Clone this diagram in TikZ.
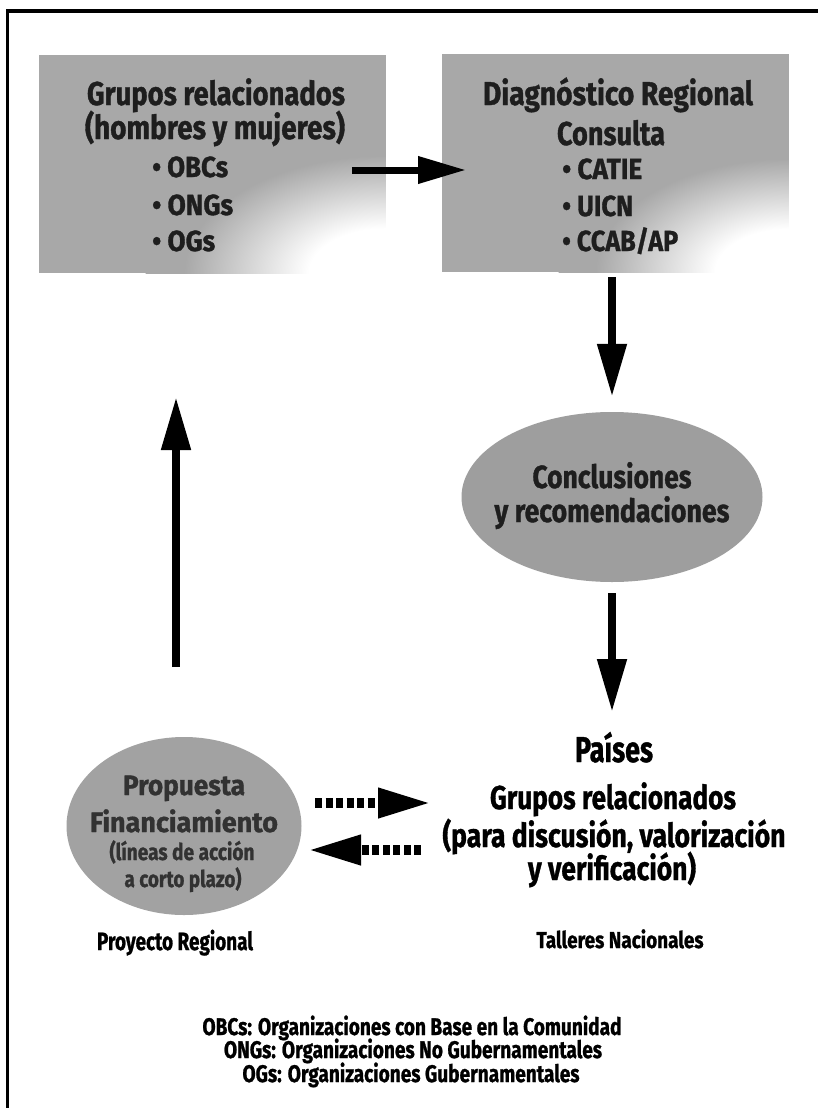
\documentclass[tikz,border=0pt]{standalone}
\usepackage{fontspec}
\setmainfont{Fira Sans}[BoldFeatures={FakeBold=1.2}]
\usepackage{graphicx}
\usetikzlibrary{arrows.meta,shapes.geometric}
\definecolor{boxgray}{RGB}{168,168,168}
\definecolor{ellgray}{RGB}{158,158,158}
\definecolor{propgray}{RGB}{162,162,162}
\definecolor{txtdark}{RGB}{30,30,30}
\definecolor{txtprop}{RGB}{50,50,50}
\pgfdeclareradialshading{cornerfade}{\pgfpoint{0bp}{0bp}}{color(0bp)=(white); color(8bp)=(white); color(21bp)=(boxgray); color(25bp)=(boxgray); color(50bp)=(boxgray)}
\newcommand{\fw}[2]{\resizebox{#1pt}{\height}{#2}}
\newcommand{\fsz}[1]{\fontsize{#1}{#1}\selectfont\bfseries}
\tikzset{
  gbox/.style={rectangle, fill=boxgray, inner sep=0pt, minimum width=347pt, minimum height=218pt},
  gell/.style={ellipse, inner sep=0pt},
  txt/.style={inner sep=0pt, anchor=base, text=black},
  bigarrow/.style={line width=8pt, -{Triangle[length=53pt,width=28pt]}},
  midarrow/.style={line width=7pt, -{Triangle[length=48pt,width=26pt]}},
  dotarrow/.style={line width=10pt, dash pattern=on 7pt off 3.5pt, -{Triangle[length=53pt,width=28pt]}}
}
\begin{document}
\begin{tikzpicture}[x=1pt,y=-1pt]
\useasboundingbox (0,0) rectangle (818,1108);
\fill[white] (0,0) rectangle (818,1108);
% frame
\draw[line width=3.5pt] (822,11) -- (7.5,11) -- (7.5,1112);

% box 1
\node[gbox] (b1) at (212,164) {};
\begin{scope}
  \clip (b1.south west) rectangle (b1.north east);
  \shade[shading=cornerfade] (b1.south east) ellipse [x radius=240pt, y radius=140pt];
\end{scope}
% box 2
\node[gbox] (b2) at (615,163) {};
\begin{scope}
  \clip (b2.south west) rectangle (b2.north east);
  \shade[shading=cornerfade] (b2.south east) ellipse [x radius=230pt, y radius=135pt];
\end{scope}

% box 1 text
\node[txt, text=txtdark, font=\fsz{33}] (b1l1) at (216,105) {\fw{258}{Grupos relacionados}};
\node[txt, text=txtdark, font=\fsz{33}] (b1l2) at (215,139) {\fw{260}{(hombres y mujeres)}};
\node[txt, text=txtdark, anchor=base west, font=\fsz{29}] (b1l3) at (152,177) {\fw{76}{• OBCs}};
\node[txt, text=txtdark, anchor=base west, font=\fsz{29}] (b1l4) at (152,215) {\fw{81}{• ONGs}};
\node[txt, text=txtdark, anchor=base west, font=\fsz{29}] (b1l5) at (152,251) {\fw{63}{• OGs}};

% box 2 text
\node[txt, text=txtdark, font=\fsz{33}] (b2l1) at (618,105) {\fw{270}{Diagnóstico Regional}};
\node[txt, text=txtdark, font=\fsz{33}] (b2l2) at (611,145) {\fw{108}{Consulta}};
\node[txt, text=txtdark, anchor=base west, font=\fsz{29}] (b2l3) at (562,179) {\fw{80}{• CATIE}};
\node[txt, text=txtdark, anchor=base west, font=\fsz{29}] (b2l4) at (562,216) {\fw{71}{• UICN}};
\node[txt, text=txtdark, anchor=base west, font=\fsz{29}] (b2l5) at (562,251) {\fw{116}{• CCAB/AP}};

% ellipse conclusiones
\node[gell, fill=ellgray, minimum width=301pt, minimum height=170pt] (c1) at (612,497) {};
\node[txt, text=txtdark, font=\fsz{32}] (c1l1) at (612,488) {\fw{159}{Conclusiones}};
\node[txt, text=txtdark, font=\fsz{32}] (c1l2) at (612,522) {\fw{235}{y recomendaciones}};

% ellipse propuesta
\node[gell, fill=propgray, minimum width=235pt, minimum height=178pt] (p1) at (184,826) {};
\node[txt, text=txtprop, font=\fsz{28}] (p1l1) at (184,795) {\fw{122}{Propuesta}};
\node[txt, text=txtprop, font=\fsz{28}] (p1l2) at (184,832) {\fw{188}{Financiamiento}};
\node[txt, text=txtprop, font=\fsz{23}] (p1l3) at (182,860) {\fw{145}{(líneas de acción}};
\node[txt, text=txtprop, font=\fsz{23}] (p1l4) at (183,887) {\fw{117}{a corto plazo)}};
\node[txt, font=\fsz{25}] (pr) at (175,950) {\fw{156}{Proyecto Regional}};

% paises block
\node[txt, font=\fsz{36}] (pa) at (614,762) {\fw{78}{Países}};
\node[txt, font=\fsz{33}] (g1) at (613,809) {\fw{246}{Grupos relacionados}};
\node[txt, font=\fsz{33}] (g2) at (614,847) {\fw{343}{(para discusión, valorización}};
\node[txt, font=\fsz{33}] (g3) at (612,880) {\fw{168}{y verificación)}};
\node[txt, font=\fsz{23}] (ta) at (620,948) {\fw{167}{Talleres Nacionales}};

% footer
\node[txt, font=\fsz{24}] (f1) at (412,1035) {\fw{419}{OBCs: Organizaciones con Base en la Comunidad}};
\node[txt, font=\fsz{24}] (f2) at (413,1058) {\fw{378}{ONGs: Organizaciones No Gubernamentales}};
\node[txt, font=\fsz{24}] (f3) at (411,1082) {\fw{337}{OGs: Organizaciones Gubernamentales}};

% connectors
\coordinate (h1s) at (352,170);
\coordinate (h1e) at (466,170);
\draw[midarrow] (h1s) -- (h1e);
\draw[bigarrow, shorten <=5pt, shorten >=15pt] (b2.south -| c1.north) -- (c1.north);
\coordinate (d2e) at (613,712);
\draw[bigarrow, shorten <=11pt] (c1.south) -- (c1.south |- d2e);
\coordinate (u0) at (176,667);
\coordinate (u1) at (176,397);
\draw[bigarrow] (u0) -- (u1);
\coordinate (r0) at (315,803);
\coordinate (r1) at (431,803);
\draw[dotarrow] (r0) -- (r1);
\coordinate (l0) at (421,850);
\coordinate (l1) at (308,850);
\draw[dotarrow] (l0) -- (l1);
\end{tikzpicture}
\end{document}
